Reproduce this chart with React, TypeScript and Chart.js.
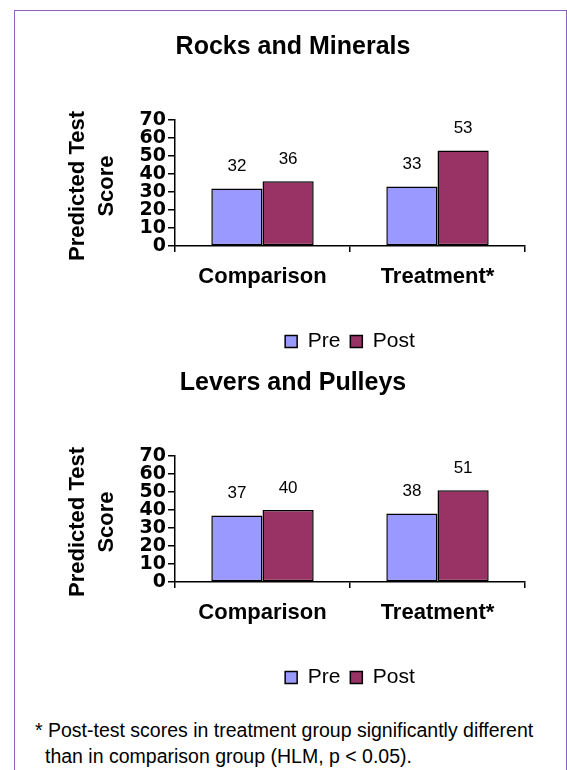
import React, { useEffect, useRef } from 'react';
import { Chart, registerables } from 'chart.js';

Chart.register(...registerables);

const categories = ['Comparison', 'Treatment*'];
const seriesNames = ['Pre', 'Post'];
const rocksPre = [32, 33];
const rocksPost = [36, 53];
const leversPre = [37, 38];
const leversPost = [40, 51];
const yMin = 0;
const yMax = 70;
const yStep = 10;
const yAxisTitle = ['Predicted Test', 'Score'];
const chartTitles = ['Rocks and Minerals', 'Levers and Pulleys'];
const footnoteLines = [
  '* Post-test scores in treatment group significantly different',
  'than in comparison group (HLM, p < 0.05).',
];

const FONT = "'Liberation Sans', Arial, Helvetica, sans-serif";
const PRE_COLOR = '#9999FF';
const POST_COLOR = '#993366';

const valueLabelPlugin = {
  id: 'valueLabels',
  afterDatasetsDraw(chart: any) {
    const ctx = chart.ctx;
    ctx.save();
    ctx.font = `17px ${FONT}`;
    ctx.fillStyle = '#000';
    ctx.textAlign = 'center';
    ctx.textBaseline = 'middle';
    chart.data.datasets.forEach((ds: any, i: number) => {
      const meta = chart.getDatasetMeta(i);
      meta.data.forEach((bar: any, j: number) => {
        ctx.fillText(String(ds.data[j]), bar.x, bar.y - 22);
      });
    });
    ctx.restore();
  },
};

const yTitlePlugin = {
  id: 'yTitleLines',
  afterDraw(chart: any) {
    const ctx = chart.ctx;
    const s = chart.scales.y;
    const area = chart.chartArea;
    const cy = (area.top + area.bottom) / 2 + 3;
    ctx.save();
    ctx.font = `bold 22px ${FONT}`;
    ctx.fillStyle = '#000';
    ctx.textAlign = 'center';
    ctx.textBaseline = 'middle';
    ctx.translate(s.left + 17, cy);
    ctx.rotate(-Math.PI / 2);
    yAxisTitle.forEach((line, k) => {
      ctx.fillText(line, 0, k * 29);
    });
    ctx.restore();
  },
};

function makeConfig(title: string, pre: number[], post: number[], titlePadTop: number): any {
  return {
    type: 'bar',
    data: {
      labels: categories,
      datasets: [
        {
          label: seriesNames[0],
          data: pre,
          backgroundColor: PRE_COLOR,
          borderColor: '#000',
          borderWidth: 1.5,
          borderSkipped: false,
          categoryPercentage: 0.585,
          barPercentage: 1,
        },
        {
          label: seriesNames[1],
          data: post,
          backgroundColor: POST_COLOR,
          borderColor: '#000',
          borderWidth: 1.5,
          borderSkipped: false,
          categoryPercentage: 0.585,
          barPercentage: 1,
        },
      ],
    },
    options: {
      responsive: false,
      animation: false,
      devicePixelRatio: 1,
      layout: { padding: { left: 61, right: 42, top: 0, bottom: 0 } },
      plugins: {
        title: {
          display: true,
          text: title,
          color: '#000',
          font: { size: 25, weight: 'bold', family: FONT, lineHeight: 1.2 },
          padding: { top: titlePadTop, bottom: 58 },
        },
        legend: {
          position: 'bottom',
          fullSize: false,
          labels: {
            boxWidth: 12,
            boxHeight: 12,
            padding: 10,
            color: '#000',
            font: { size: 21, family: FONT },
          },
        },
        tooltip: { enabled: false },
      },
      scales: {
        x: {
          grid: {
            display: true,
            drawOnChartArea: false,
            drawTicks: true,
            tickLength: 6,
            color: '#000',
            lineWidth: 1.5,
            offset: true,
          },
          border: { display: true, color: '#000', width: 1.5 },
          ticks: {
            color: '#000',
            padding: 11.8,
            font: { size: 22, weight: 'bold', family: FONT },
          },
          afterFit: (s: any) => {
            s.height = 75;
          },
        },
        y: {
          min: yMin,
          max: yMax,
          ticks: {
            stepSize: yStep,
            autoSkip: false,
            padding: 2,
            color: '#000',
            font: { size: 19, weight: 'bold', family: "'DejaVu Sans', sans-serif", lineHeight: 1 },
          },
          grid: {
            drawOnChartArea: false,
            drawTicks: true,
            tickLength: 7,
            color: '#000',
            lineWidth: 1.5,
          },
          border: { display: true, color: '#000', width: 1.5 },
          afterFit: (s: any) => {
            s.width = 114;
          },
        },
      },
    },
    plugins: [valueLabelPlugin, yTitlePlugin],
  };
}

function BarChart(props: { title: string; pre: number[]; post: number[]; padTop: number; top: number; height: number }) {
  const ref = useRef<HTMLCanvasElement>(null);
  useEffect(() => {
    const chart = new Chart(ref.current as HTMLCanvasElement, makeConfig(props.title, props.pre, props.post, props.padTop));
    return () => chart.destroy();
  }, []);
  return (
    <canvas
      ref={ref}
      width={567}
      height={props.height}
      style={{ position: 'absolute', left: 0, top: props.top, width: 567, height: props.height, display: 'block' }}
    />
  );
}

export default function App() {
  return (
    <div
      style={{
        position: 'absolute',
        left: 0,
        top: 0,
        width: 567,
        height: 770,
        overflow: 'hidden',
        background: '#fff',
      }}
    >
      <div
        style={{
          position: 'absolute',
          left: 14,
          top: 10,
          width: 553,
          height: 800,
          border: '1px solid #9060C0',
          boxSizing: 'border-box',
        }}
      />
      <BarChart title={chartTitles[0]} pre={rocksPre} post={rocksPost} padTop={32} top={0} height={362} />
      <BarChart title={chartTitles[1]} pre={leversPre} post={leversPost} padTop={6} top={362} height={336} />
      <div
        style={{
          position: 'absolute',
          left: 35,
          top: 717,
          fontFamily: FONT,
          fontSize: '19.5px',
          lineHeight: '27px',
          whiteSpace: 'pre',
          color: '#000',
        }}
      >
        {footnoteLines[0]}
      </div>
      <div
        style={{
          position: 'absolute',
          left: 45,
          top: 743,
          fontFamily: FONT,
          fontSize: '19.5px',
          lineHeight: '27px',
          whiteSpace: 'pre',
          color: '#000',
        }}
      >
        {footnoteLines[1]}
      </div>
    </div>
  );
}
